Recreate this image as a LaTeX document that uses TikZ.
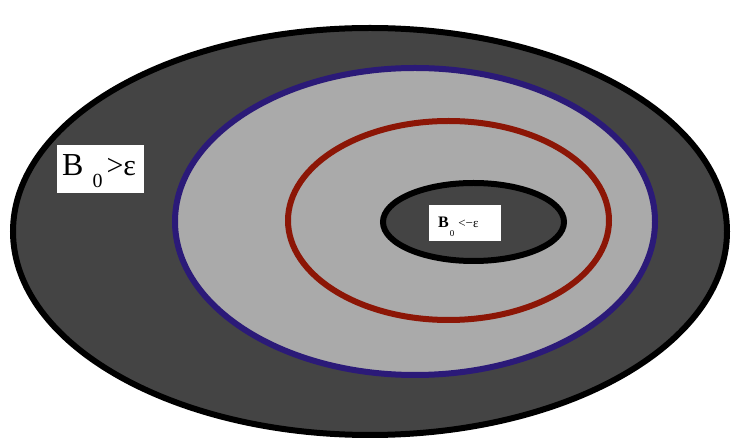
\documentclass[tikz,border=0pt]{standalone}
\usepackage{fontspec}
\setmainfont{Liberation Serif}
\definecolor{darkfill}{HTML}{444444}
\definecolor{lightfill}{HTML}{AAAAAA}
\definecolor{ringblue}{HTML}{2B1A78}
\definecolor{ringred}{HTML}{8C1606}
\begin{document}
\begin{tikzpicture}[x=1pt,y=-1pt,
  ring/.style={line width=6pt},
  labelbox/.style={fill=white, draw=none, inner sep=0pt},
  labeltext/.style={anchor=base west, inner sep=0pt, text=black}]
\useasboundingbox (0,0) rectangle (734,443);
\draw[ring, draw=black, fill=darkfill] (370,231.5) ellipse [x radius=357, y radius=203.5];
\draw[ring, draw=ringblue, fill=lightfill] (415,221.5) ellipse [x radius=240, y radius=153.5];
\draw[ring, draw=ringred] (448.5,220.5) ellipse [x radius=160.5, y radius=99.5];
\draw[ring, draw=black, fill=darkfill] (473.5,222) ellipse [x radius=90.5, y radius=39];
\node[labelbox, minimum width=87pt, minimum height=48pt] (outerbox) at (100,169) {};
\node[labeltext] (outertext) at (62,176) {\fontsize{32}{32}\selectfont B\hspace{9pt}\raisebox{-12pt}{\fontsize{20}{20}\selectfont 0}\hspace{4pt}{\fontsize{30}{30}\selectfont >ε}};
\node[labelbox, minimum width=72pt, minimum height=36pt] (innerbox) at (465,223) {};
\node[labeltext] (innertext) at (438,228) {{\fontsize{16}{16}\selectfont\bfseries B}\hspace{1pt}\raisebox{-9pt}{\fontsize{9}{9}\selectfont 0}\hspace{4pt}{\fontsize{13}{13}\selectfont <−ε}};
\end{tikzpicture}
\end{document}
